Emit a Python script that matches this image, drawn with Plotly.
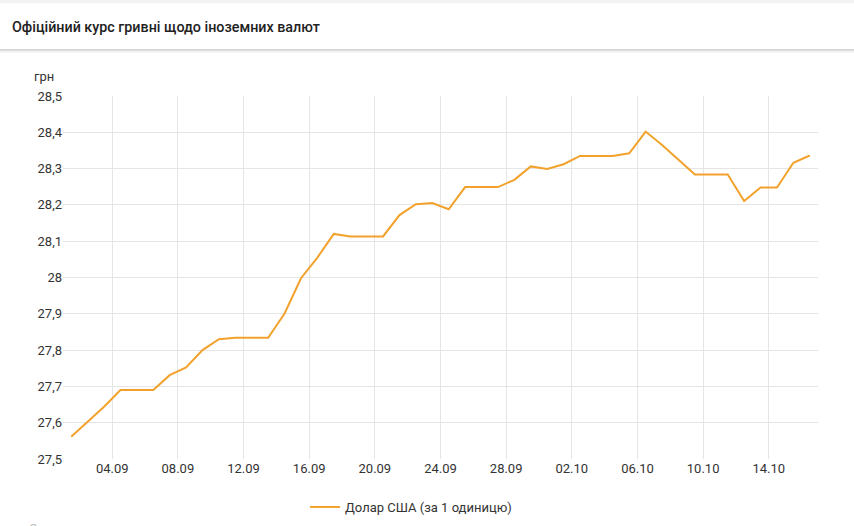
import pandas as pd
import plotly.graph_objects as go

# Data: official UAH rate for 1 USD, one value per day (plotted at mid-day)
start_date = "2018-09-01 12:00"
usd_rate = [27.561, 27.603, 27.644, 27.690, 27.690, 27.690, 27.731, 27.752, 27.800, 27.830,
            27.834, 27.834, 27.834, 27.901, 27.998, 28.055, 28.120, 28.113, 28.113, 28.113,
            28.172, 28.202, 28.205, 28.188, 28.249, 28.249, 28.249, 28.269, 28.306, 28.299,
            28.312, 28.335, 28.335, 28.335, 28.342, 28.402, 28.365, 28.324, 28.284, 28.284,
            28.284, 28.211, 28.248, 28.248, 28.316, 28.336]
dates = pd.date_range(start_date, periods=len(usd_rate), freq="D")

series_name = "Долар США (за 1 одиницю)"
title_text = "Офіційний курс гривні щодо іноземних валют"
unit_text = "грн"
x_range = ["2018-09-01 00:00", "2018-10-17 00:00"]
y_range = [27.5, 28.5]

W, H = 854, 526
L, R, T, B = 63, 36, 96, 67
ph = H - T - B
pw = W - L - R

def py(p):  # pixel y -> paper y
    return (H - B - p) / ph

def px(p):  # pixel x -> paper x
    return (p - L) / pw

fig = go.Figure()
fig.add_trace(go.Scatter(
    x=dates, y=usd_rate, mode="lines", name=series_name,
    line=dict(color="#f2a22c", width=2),
    showlegend=True,
))

font_family = "Roboto, 'Noto Sans', sans-serif"

fig.update_layout(
    width=W, height=H,
    margin=dict(l=L, r=R, t=T, b=B, autoexpand=False),
    paper_bgcolor="white", plot_bgcolor="white",
    separators=", ",
    font=dict(family=font_family, size=13, color="#333333"),
    showlegend=True,
    legend=dict(orientation="h", x=0.461, xanchor="center", y=py(507), yanchor="middle",
                font=dict(size=13, color="#333333"), itemwidth=30),
    xaxis=dict(
        type="date", range=x_range, tickformat="%d.%m",
        tick0="2018-09-04", dtick=4 * 86400000,
        showgrid=True, gridcolor="#e5e5e5", gridwidth=1,
        zeroline=False, showline=False, ticks="", ticklen=0,
        tickfont=dict(size=13, color="#333333"),
    ),
    yaxis=dict(
        range=y_range, dtick=0.1, tick0=27.5,
        showgrid=True, gridcolor="#e5e5e5", gridwidth=1,
        zeroline=False, showline=False, ticks="",
        tickfont=dict(size=13, color="#333333"),
    ),
    shapes=[
        dict(type="rect", xref="paper", yref="paper", x0=px(0), x1=px(W), y0=py(3), y1=py(0),
             fillcolor="#f3f2f1", line=dict(width=0), layer="below"),
        dict(type="line", xref="paper", yref="paper", x0=px(0), x1=px(W), y0=py(50), y1=py(50),
             line=dict(color="#d9d9d9", width=2)),
        dict(type="line", xref="paper", yref="paper", x0=px(0), x1=px(W), y0=py(52), y1=py(52),
             line=dict(color="#efefef", width=1.5)),
    ],
    annotations=[
        dict(text=title_text, xref="paper", yref="paper", x=px(10), y=py(27),
             xanchor="left", yanchor="middle", showarrow=False,
             font=dict(size=14.3, color="#222222", family=font_family, weight=500)),
        dict(text=unit_text, xref="paper", yref="paper", x=px(32), y=py(76),
             xanchor="left", yanchor="middle", showarrow=False,
             font=dict(size=13, color="#333333")),
        dict(text="Оновлено", xref="paper", yref="paper", x=px(27), y=py(519),
             xanchor="left", yanchor="top", showarrow=False,
             font=dict(size=13, color="#bdbdbd")),
    ],
)

fig.write_html("out.html", config={"displayModeBar": False},
               post_script="document.body.style.margin='0';")
